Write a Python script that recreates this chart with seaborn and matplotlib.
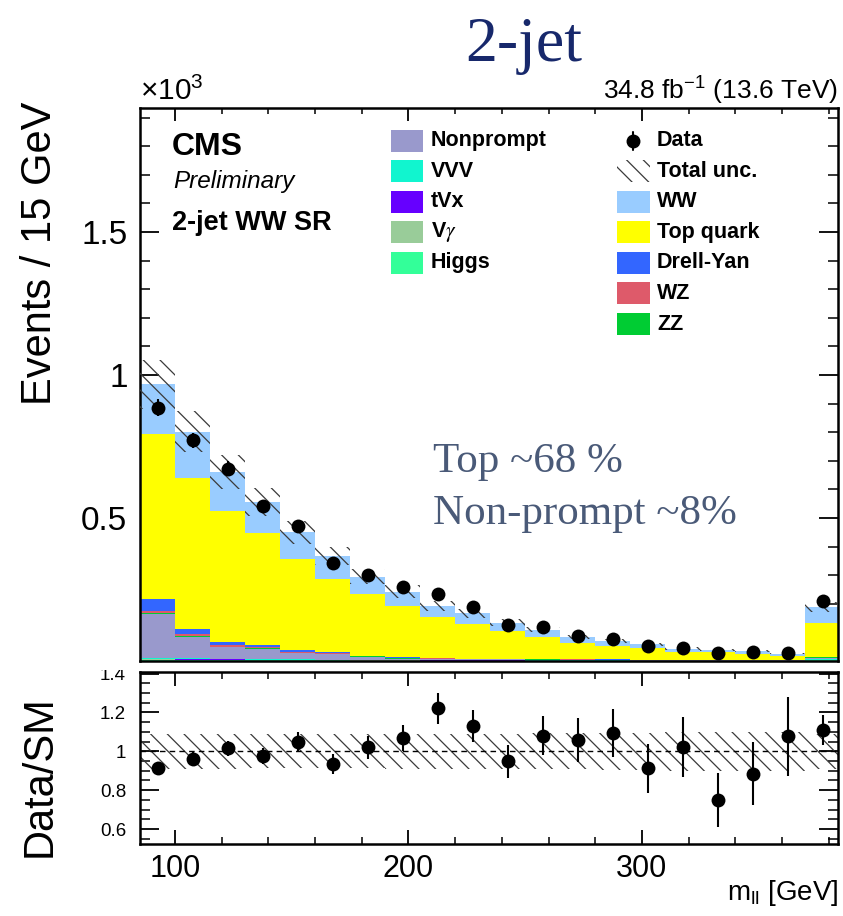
import numpy as np
import pandas as pd
import matplotlib
matplotlib.use("Agg")
import matplotlib.pyplot as plt
import seaborn as sns
from matplotlib.patches import Rectangle
from matplotlib.lines import Line2D
from matplotlib.ticker import MultipleLocator, FuncFormatter

# ---------------- data (events per 15 GeV bin) ----------------
bin_edges = [85, 100, 115, 130, 145, 160, 175, 190, 205, 220, 235,
             250, 265, 280, 295, 310, 325, 340, 355, 370, 385]
bin_centers = [92.5, 107.5, 122.5, 137.5, 152.5, 167.5, 182.5, 197.5, 212.5, 227.5,
               242.5, 257.5, 272.5, 287.5, 302.5, 317.5, 332.5, 347.5, 362.5, 377.5]

ww        = [174, 161, 138, 109, 93, 81, 62, 49, 38, 38, 28, 25, 19, 17, 14, 10.5, 9, 10.5, 7.4, 55]
top_quark = [577, 529, 458, 390, 319, 256, 214, 181, 145, 120.5, 98, 78, 57.5, 48, 39, 28.4, 26, 21, 15.5, 119]
drell_yan = [41, 19, 11, 8, 5, 3, 1.6, 1.5, 1.2, 1.0, 0.9, 0.8, 0.7, 0.6, 0.5, 0.5, 0.4, 0.4, 0.3, 1.5]
wz        = [8, 6, 5, 4, 3, 2, 1.5, 1.2, 1.0, 1.0, 0.8, 0.7, 0.6, 0.5, 0.5, 0.4, 0.4, 0.3, 0.3, 1.5]
zz        = [3, 2, 2, 1.5, 1.5, 1, 1, 1, 0.8, 0.8, 0.7, 0.6, 0.6, 0.5, 0.5, 0.4, 0.4, 0.4, 0.3, 1.0]
nonprompt = [152, 76, 40.5, 36, 22.8, 20, 11, 5, 4.4, 3.1, 3.0, 2.8, 2.5, 2.0, 1.8, 1.5, 1.3, 1.2, 1.0, 6]
vvv       = [4, 3, 2, 2, 1.5, 1.2, 1, 1, 0.8, 0.7, 0.6, 0.5, 0.5, 0.4, 0.4, 0.3, 0.3, 0.3, 0.3, 1.5]
tvx       = [1, 1, 1, 1, 0.8, 0.8, 0.7, 0.6, 0.5, 0.5, 0.4, 0.4, 0.3, 0.3, 0.3, 0.2, 0.2, 0.2, 0.2, 1.0]
vgamma    = [3, 2, 1.5, 1, 1, 0.8, 0.6, 0.5, 0.5, 0.4, 0.4, 0.3, 0.3, 0.3, 0.2, 0.2, 0.2, 0.2, 0.2, 0.8]
higgs     = [4, 3, 3, 2.5, 2, 2, 1.5, 1.5, 1, 1, 1, 1, 1, 0.8, 0.8, 0.6, 0.6, 0.5, 0.5, 2]

data_obs  = [885, 771, 673, 541, 472, 344, 301, 259, 236, 189, 127, 119, 88, 77, 53, 44, 29, 31, 28, 210]
data_err  = [29.7, 27.8, 25.9, 23.3, 21.7, 18.5, 17.3, 16.1, 15.4, 13.7, 11.3, 10.9, 9.4, 8.8, 7.3, 6.6, 5.4, 5.6, 5.3, 14.5]
rel_unc   = [0.09, 0.09, 0.09, 0.088, 0.088, 0.088, 0.088, 0.09, 0.09, 0.09,
             0.09, 0.092, 0.093, 0.095, 0.095, 0.10, 0.10, 0.10, 0.10, 0.09]

# stack order: first = top of stack
process_names = ["WW", "Top quark", "Drell-Yan", "WZ", "ZZ", "Nonprompt", "VVV", "tVx", "V\u03b3", "Higgs"]
process_vals = [ww, top_quark, drell_yan, wz, zz, nonprompt, vvv, tvx, vgamma, higgs]
process_colors = ["#99ccff", "#ffff00", "#3366ff", "#de5a6a", "#00cc33",
                  "#9999cc", "#11f5cf", "#6600ff", "#99cc99", "#33ff99"]

# ---------------- style ----------------
sns.set_theme(style="ticks")
plt.rcParams["font.family"] = ["Liberation Sans", "DejaVu Sans"]
plt.rcParams["mathtext.fontset"] = "custom"
plt.rcParams["mathtext.rm"] = "Liberation Sans"
plt.rcParams["mathtext.it"] = "Liberation Sans:italic"
plt.rcParams["mathtext.bf"] = "Liberation Sans:bold"
plt.rcParams["hatch.linewidth"] = 0.9
for k in ["text.color", "axes.labelcolor", "xtick.color", "ytick.color", "axes.edgecolor"]:
    plt.rcParams[k] = "black"

W, H = 843, 916
fig = plt.figure(figsize=(W / 100, H / 100), dpi=100)


def frac(x0, y0, x1, y1):
    return [x0 / W, 1 - y1 / H, (x1 - x0) / W, (y1 - y0) / H]


ax = fig.add_axes(frac(140, 107.6, 838, 661))
rax = fig.add_axes(frac(140, 671.7, 838, 844))

# ---------------- main stacked histogram ----------------
centers = np.array(bin_centers)
df = pd.DataFrame({
    "mll": np.tile(centers, len(process_names)),
    "process": np.repeat(process_names, len(centers)),
    "kevents": np.concatenate([np.array(v, float) for v in process_vals]) / 1000.0,
})
sns.histplot(data=df, x="mll", weights="kevents", hue="process", hue_order=process_names,
             palette=dict(zip(process_names, process_colors)), multiple="stack",
             bins=bin_edges, element="bars", fill=True, alpha=1, linewidth=0,
             legend=False, ax=ax)

total = np.sum([np.array(v, float) for v in process_vals], axis=0)
tot_k = total / 1000.0
unc = np.array(rel_unc)
ax.bar(centers, 2 * unc * tot_k, bottom=tot_k * (1 - unc), width=15, fill=False,
       hatch="\\\\", edgecolor="#3a3a3a", linewidth=0, zorder=3)

dk = np.array(data_obs) / 1000.0
ek = np.array(data_err) / 1000.0
ax.errorbar(centers, dk, yerr=ek, fmt="none", ecolor="black", elinewidth=1.5, zorder=5)
sns.scatterplot(x=centers, y=dk, color="black", s=100, edgecolor="black", linewidth=0,
                zorder=6, ax=ax, legend=False)

ax.set_xlim(85, 384)
ax.set_ylim(0, 1.935)
ax.set_xlabel("")
ax.set_ylabel("")
ax.xaxis.set_major_locator(MultipleLocator(100))
ax.xaxis.set_minor_locator(MultipleLocator(20))
ax.yaxis.set_major_locator(MultipleLocator(0.5))
ax.yaxis.set_minor_locator(MultipleLocator(0.1))
ax.yaxis.set_major_formatter(FuncFormatter(lambda v, p: "" if abs(v) < 1e-9 else f"{v:g}"))
ax.tick_params(axis="x", which="both", labelbottom=False, direction="in", top=True, bottom=True)
ax.tick_params(axis="x", which="major", length=9, width=1.3)
ax.tick_params(axis="x", which="minor", length=4.5, width=1.1)
ax.tick_params(axis="y", which="both", direction="in", left=True, right=True, labelsize=24, pad=9)
ax.tick_params(axis="y", which="major", length=14, width=1.3)
ax.tick_params(axis="y", which="minor", length=7, width=1.1)
for s in ax.spines.values():
    s.set_linewidth(1.8)
    s.set_visible(True)
    s.set_color("black")

# ---------------- ratio panel ----------------
ratio = np.array(data_obs) / total
ratio_err = np.array(data_err) / total
rax.bar(centers, 2 * unc, bottom=1 - unc, width=15, fill=False, hatch="\\\\",
        edgecolor="#3a3a3a", linewidth=0, zorder=2)
rax.axhline(1.0, color="black", lw=1.0, ls=(0, (4, 3)), zorder=3)
rax.errorbar(centers, ratio, yerr=ratio_err, fmt="none", ecolor="black", elinewidth=1.5, zorder=5)
sns.scatterplot(x=centers, y=ratio, color="black", s=100, edgecolor="black", linewidth=0,
                zorder=6, ax=rax, legend=False)
rax.set_xlim(85, 384)
rax.set_ylim(0.523, 1.41)
rax.set_xlabel("")
rax.set_ylabel("")
rax.xaxis.set_major_locator(MultipleLocator(100))
rax.xaxis.set_minor_locator(MultipleLocator(20))
rax.yaxis.set_major_locator(MultipleLocator(0.2))
rax.yaxis.set_minor_locator(MultipleLocator(0.05))
rax.yaxis.set_major_formatter(FuncFormatter(lambda v, p: f"{v:g}"))
rax.tick_params(axis="x", which="both", direction="in", top=True, bottom=True, labelsize=22, pad=7)
rax.tick_params(axis="x", which="major", length=10, width=1.3)
rax.tick_params(axis="x", which="minor", length=5, width=1.1)
rax.tick_params(axis="y", which="both", direction="in", left=True, right=True, labelsize=13.5, pad=10)
rax.tick_params(axis="y", which="major", length=14, width=1.3)
rax.tick_params(axis="y", which="minor", length=7, width=1.1)
for s in rax.spines.values():
    s.set_linewidth(1.8)
    s.set_visible(True)
    s.set_color("black")

# ---------------- overlay for text & legend (pixel coordinates) ----------------
lax = fig.add_axes([0, 0, 1, 1])
lax.set_xlim(0, W)
lax.set_ylim(H, 0)
lax.axis("off")

# the top of the "1.4" label is hidden by the pad boundary in the original
lax.add_patch(Rectangle((90, 662.5), 46, 7.5, facecolor="white", edgecolor="none"))

lax.text(524, 61, "2-jet", family=["Liberation Serif", "DejaVu Serif"], fontsize=46,
         color="#17286b", ha="center", va="baseline")
lax.text(140, 100, r"$\times$10$^{\mathregular{3}}$", fontsize=21.5, ha="left", va="baseline")
lax.text(838, 100, r"34.8 fb$^{\mathregular{-1}}$ (13.6 TeV)", fontsize=19, ha="right", va="baseline")
lax.text(40, 102, "Events / 15 GeV", fontsize=30, rotation=90, ha="center", va="top")
lax.text(40, 776, "Data/SM", fontsize=30, rotation=90, ha="center", va="center")
lax.text(838, 893, r"m$_{\mathregular{ll}}$ [GeV]", fontsize=20, ha="right", va="center")

lax.text(172, 155, "CMS", fontsize=23, fontweight="bold", ha="left", va="baseline")
lax.text(173, 188, "Preliminary", fontsize=17.5, style="italic", ha="left", va="baseline")
lax.text(172, 230, "2-jet WW SR", fontsize=19.5, fontweight="bold", ha="left", va="baseline")

lax.text(433, 462, "Top ~68 %", family=["Liberation Serif", "DejaVu Serif"], fontsize=31,
         color="#4a5a78", ha="left", va="center")
lax.text(433, 514, "Non-prompt ~8%", family=["Liberation Serif", "DejaVu Serif"], fontsize=31,
         color="#4a5a78", ha="left", va="center")

# legend
color_of = dict(zip(process_names, process_colors))
row_y = [140.7 + 30.55 * i for i in range(7)]
col1 = ["Nonprompt", "VVV", "tVx", "V\u03b3", "Higgs"]
col2 = ["Data", "Total unc.", "WW", "Top quark", "Drell-Yan", "WZ", "ZZ"]
sw_h = 22
for i, name in enumerate(col1):
    y = row_y[i]
    lax.add_patch(Rectangle((391, y - sw_h / 2), 32, sw_h, facecolor=color_of[name],
                            edgecolor="none"))
    if name == "V\u03b3":
        lax.text(431, y, r"V$\gamma$", fontsize=15.5, fontweight="bold", ha="left", va="center",
                 math_fontfamily="stix")
    else:
        lax.text(431, y, name, fontsize=15.5, fontweight="bold", ha="left", va="center")
for i, name in enumerate(col2):
    y = row_y[i]
    if name == "Data":
        lax.add_line(Line2D([633, 633], [y - 9, y + 9], color="black", lw=1.5))
        lax.add_line(Line2D([633], [y], marker="o", ms=9, color="black", lw=0))
    elif name == "Total unc.":
        lax.add_patch(Rectangle((617, y - sw_h / 2), 33, sw_h, fill=False, hatch="\\\\",
                                edgecolor="#3a3a3a", linewidth=0))
    else:
        lax.add_patch(Rectangle((617, y - sw_h / 2), 33, sw_h, facecolor=color_of[name],
                                edgecolor="none"))
    lax.text(657, y, name, fontsize=15.5, fontweight="bold", ha="left", va="center")

fig.savefig("out.png", dpi=100)
